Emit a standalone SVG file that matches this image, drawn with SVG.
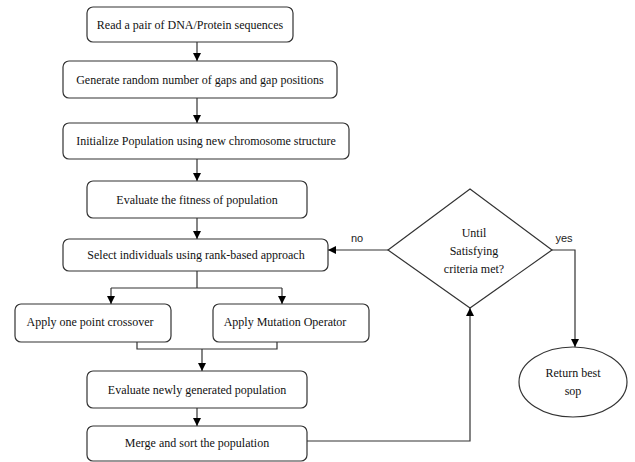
<svg xmlns="http://www.w3.org/2000/svg" width="635" height="462" viewBox="0 0 635 462">
<defs>
<marker id="ah" markerWidth="8" markerHeight="8" refX="8" refY="4" orient="auto" markerUnits="userSpaceOnUse">
<path d="M0,0 L8,4 L0,8 Z" fill="#000"/>
</marker>
<style>
.box{fill:#fff;stroke:#333;stroke-width:1.2}
.t{font-family:"Liberation Serif",serif;font-size:12px;fill:#111;text-anchor:middle}
.s{font-family:"Liberation Sans",sans-serif;font-size:11px;fill:#222;text-anchor:middle}
.c{fill:none;stroke:#333;stroke-width:1.2}
.a{marker-end:url(#ah)}
</style>
</defs>
<rect width="635" height="462" fill="#fff"/>
<g id="connectors">
<path class="c a" d="M197,42 V61"/>
<path class="c a" d="M197,98 V123"/>
<path class="c a" d="M197,159 V181"/>
<path class="c a" d="M197,218 V239"/>
<path class="c" d="M197,271 V288 M111,288 H282"/>
<path class="c a" d="M111,288 V304"/>
<path class="c a" d="M282,288 V304"/>
<path class="c" d="M137,342 V349 H277 V342"/>
<path class="c a" d="M202,349 V371"/>
<path class="c a" d="M197,408 V426"/>
<path class="c a" d="M307,441 H470 V308"/>
<path class="c a" d="M388,250 H328"/>
<path class="c a" d="M552,250 H575 V347"/>
<text class="s" x="357" y="242">no</text>
<text class="s" x="564" y="242">yes</text>
</g>
<g id="n1"><rect class="box" x="87" y="7" width="206" height="35" rx="6"/><text class="t" x="190" y="29">Read a pair of DNA/Protein sequences</text></g>
<g id="n2"><rect class="box" x="63" y="61" width="274" height="37" rx="6"/><text class="t" x="200" y="84">Generate random number of gaps and gap positions</text></g>
<g id="n3"><rect class="box" x="63" y="123" width="286" height="36" rx="6"/><text class="t" x="206" y="145">Initialize Population using new chromosome structure</text></g>
<g id="n4"><rect class="box" x="87" y="181" width="220" height="37" rx="6"/><text class="t" x="197" y="204">Evaluate the fitness of population</text></g>
<g id="n5"><rect class="box" x="63" y="239" width="265" height="32" rx="6"/><text class="t" x="196" y="259">Select individuals using rank-based approach</text></g>
<g id="n6"><rect class="box" x="15" y="304" width="156" height="38" rx="6"/><text class="t" x="90" y="326">Apply one point crossover</text></g>
<g id="n7"><rect class="box" x="213" y="304" width="156" height="38" rx="6"/><text class="t" x="285" y="326">Apply Mutation Operator</text></g>
<g id="n8"><rect class="box" x="87" y="371" width="220" height="37" rx="6"/><text class="t" x="197" y="394">Evaluate newly generated population</text></g>
<g id="n9"><rect class="box" x="87" y="426" width="220" height="35" rx="6"/><text class="t" x="197" y="447">Merge and sort the population</text></g>
<g id="n10"><path class="box" d="M470,189 L552,250 L470,308 L388,250 Z"/>
<text class="t" x="474" y="237">Until</text><text class="t" x="474" y="255">Satisfying</text><text class="t" x="474" y="273">criteria met?</text></g>
<g id="n11"><ellipse class="box" cx="573" cy="382" rx="54" ry="35"/><text class="t" x="573" y="377">Return best</text><text class="t" x="573" y="395">sop</text></g>
</svg>
